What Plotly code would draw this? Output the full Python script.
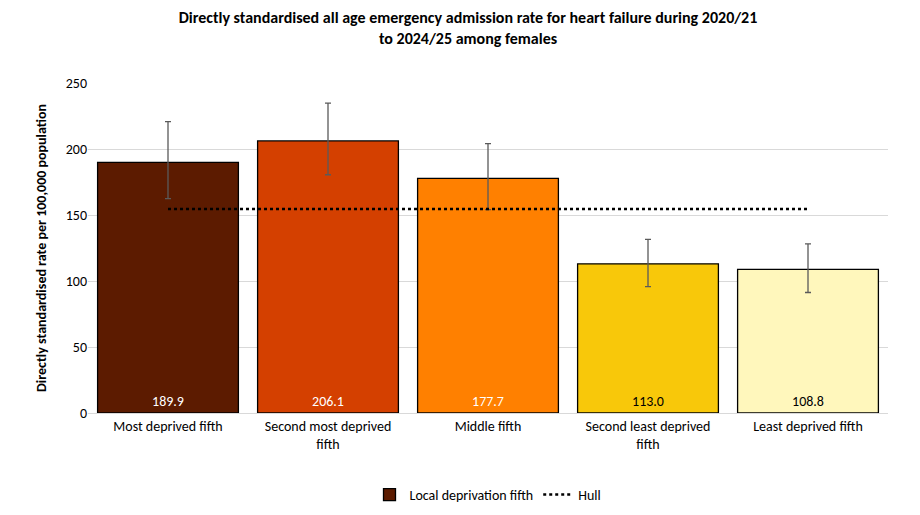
import plotly.graph_objects as go

categories = ["Most deprived fifth", "Second most deprived<br>fifth", "Middle fifth",
              "Second least deprived<br>fifth", "Least deprived fifth"]
rates = [189.9, 206.1, 177.7, 113.0, 108.8]
upper_ci = [220.7, 234.7, 204.1, 131.6, 128.2]
lower_ci = [162.4, 180.5, 154.0, 95.7, 91.3]
hull = [154.5] * 5
colors = ["#5c1b00", "#d44000", "#ff8000", "#f8c80a", "#fff7bc"]
text_colors = ["white", "white", "white", "black", "black"]

fig = go.Figure()
fig.add_trace(go.Bar(
    x=categories, y=rates, name="Local deprivation fifth",
    marker=dict(color=colors, line=dict(color="black", width=1.3)),
    text=[f"{v:.1f}" for v in rates], textposition="inside", insidetextanchor="start",
    textfont=dict(color=text_colors, size=14),
    error_y=dict(type="data", symmetric=False,
                 array=[u - r for u, r in zip(upper_ci, rates)],
                 arrayminus=[r - l for r, l in zip(rates, lower_ci)],
                 color="#5a5a5a", thickness=1.3, width=3),
    width=0.88,
))
fig.add_trace(go.Scatter(
    x=categories, y=hull, name="Hull", mode="lines",
    line=dict(color="black", width=2.5, dash="dot"),
))

fig.update_layout(
    width=920, height=515,
    font=dict(family="Calibri, Carlito, Liberation Sans, sans-serif", size=14, color="black"),
    title=dict(text="<b>Directly standardised all age emergency admission rate for heart failure during 2020/21<br>to 2024/25 among females</b>",
               x=0.5, y=0.97, xanchor="center", font=dict(size=16)),
    plot_bgcolor="white", paper_bgcolor="white",
    margin=dict(l=80, r=40, t=75, b=95),
    legend=dict(orientation="h", x=0.5, xanchor="center", y=-0.2, yanchor="top"),
    bargap=0.12,
)
fig.update_yaxes(range=[0, 250], dtick=50, gridcolor="#d9d9d9", showline=False, zeroline=False,
                 title=dict(text="<b>Directly standardised rate per 100,000 population</b>", font=dict(size=14)))
fig.update_xaxes(showline=True, linecolor="#d9d9d9", tickfont=dict(size=14))

fig.write_html("out.html")
